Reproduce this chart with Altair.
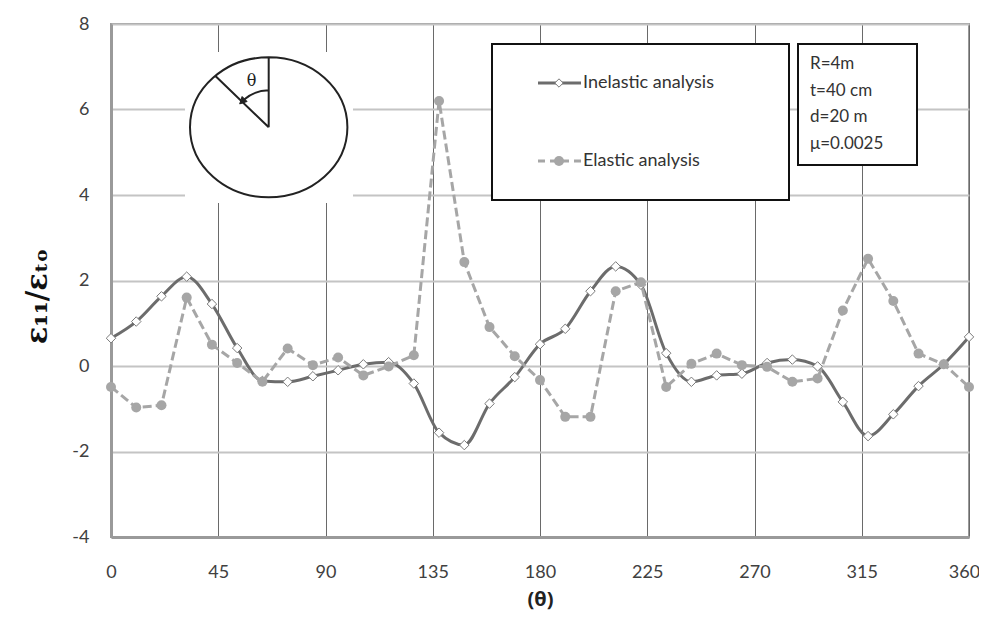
import altair as alt
import pandas as pd

# ---- data ----
theta = [0, 10.59, 21.18, 31.76, 42.35, 52.94, 63.53, 74.12, 84.71, 95.29,
         105.88, 116.47, 127.06, 137.65, 148.24, 158.82, 169.41, 180, 190.59,
         201.18, 211.76, 222.35, 232.94, 243.53, 254.12, 264.71, 275.29,
         285.88, 296.47, 307.06, 317.65, 328.24, 338.82, 349.41, 360]
inelastic = [0.65, 1.04, 1.63, 2.09, 1.45, 0.42, -0.35, -0.37, -0.24, -0.10,
             0.04, 0.09, -0.41, -1.56, -1.85, -0.88, -0.26, 0.51, 0.87, 1.75,
             2.33, 1.90, 0.30, -0.37, -0.22, -0.18, 0.07, 0.15, -0.01, -0.84,
             -1.64, -1.13, -0.47, 0.04, 0.68]
elastic = [-0.49, -0.97, -0.92, 1.60, 0.50, 0.07, -0.37, 0.41, 0.02, 0.20,
           -0.22, -0.01, 0.25, 6.20, 2.43, 0.91, 0.23, -0.33, -1.19, -1.19,
           1.75, 1.96, -0.49, 0.05, 0.29, 0.02, -0.02, -0.37, -0.29, 1.30,
           2.51, 1.52, 0.29, 0.04, -0.49]
x_ticks = [0, 45, 90, 135, 180, 225, 270, 315, 360]
y_ticks = [-4, -2, 0, 2, 4, 6, 8]
legend_labels = ["Inelastic analysis", "Elastic analysis"]
info_lines = ["R=4m", "t=40 cm", "d=20 m", "\u03bc=0.0025"]

W, H = 858, 513
OX, OY = 111, 24  # page position of plot origin


def px(v):
    return alt.value(v - OX)


def py(v):
    return alt.value(v - OY)


df_in = pd.DataFrame({"theta": theta, "v": inelastic})
df_el = pd.DataFrame({"theta": theta, "v": elastic})
one = pd.DataFrame({"a": [0]})

FONT = "Lato"
DARK = "#6c6c6c"
LIGHT = "#a6a6a6"

xenc = alt.X("theta:Q", scale=alt.Scale(domain=[0, 360], nice=False, zero=False),
             axis=alt.Axis(values=x_ticks, title="(\u03b8)", grid=True,
                           gridColor="#6a6a6a", gridWidth=1, ticks=False,
                           domainColor="#9a9a9a", domainWidth=3,
                           labelPadding=26, labelFontSize=18, labelFont=FONT,
                           labelColor="#404040", titleFont="Open Sans",
                           titleFontSize=20, titleFontWeight="bold",
                           titleColor="#222", titlePadding=8,
                           labelFlush=False, labelOverlap=False,
                           labelOffset={"condition": {"test": "datum.value === 360",
                                                      "value": -5},
                                        "value": 0},
                           labelExpr="'' + datum.value"))
yenc = alt.Y("v:Q", scale=alt.Scale(domain=[-4, 8], nice=False, zero=False),
             axis=alt.Axis(values=y_ticks, title="\u03b5\u2081\u2081/\u03b5\u209c\u2092",
                           grid=True, gridColor="#c4c4c4", gridWidth=2,
                           ticks=False, domainColor="#9a9a9a", domainWidth=3,
                           labelPadding=22, labelFontSize=18, labelFont=FONT,
                           labelColor="#404040", titleFont="DejaVu Serif",
                           titleFontSize=29, titleFontWeight="bold",
                           titleColor="#111", titleAngle=-90,
                           titleX=-74, titleY=272, titleAlign="center",
                           titleBaseline="middle", labelFlush=False,
                           labelExpr="'' + datum.value"))

in_line = alt.Chart(df_in).mark_line(color=DARK, strokeWidth=3,
                                     interpolate="monotone").encode(x=xenc, y=yenc)
in_pts = alt.Chart(df_in).mark_point(shape="diamond", filled=True, fill="white",
                                     stroke="#7a7a7a", strokeWidth=1, size=90,
                                     opacity=1).encode(x="theta:Q", y="v:Q")
el_line = alt.Chart(df_el).mark_line(color=LIGHT, strokeWidth=3,
                                     strokeDash=[9, 4]).encode(x="theta:Q", y="v:Q")
el_pts = alt.Chart(df_el).mark_circle(color=LIGHT, size=100,
                                      opacity=1).encode(x="theta:Q", y="v:Q")

# ---- inset drawing ----
inset_bg = alt.Chart(one).mark_rect(fill="white", stroke=None).encode(
    x=px(185), x2=px(353), y=py(52), y2=py(203))
inset_path = ("M-78.7,0 A78.7,70 0 1,1 78.7,0 A78.7,70 0 1,1 -78.7,0 Z "
              "M0,0 L0,-70 M0,0 L-53,-51 M0,-37 A37,37 0 0,0 -24.5,-27.7")
inset = alt.Chart(one).mark_point(shape=inset_path, size=4, filled=False,
                                  stroke="#222", strokeWidth=2, opacity=1).encode(
    x=px(268.7), y=py(127.3))
arrow = alt.Chart(one).mark_point(shape="M-29,-23.4 L-21.6,-25.8 L-26.6,-30.8 Z",
                                  size=4, filled=True, fill="#222", stroke="#222",
                                  strokeWidth=1, opacity=1).encode(
    x=px(268.7), y=py(127.3))
theta_txt = alt.Chart(one).mark_text(text="\u03b8", font="DejaVu Serif",
                                     fontSize=16, color="#222").encode(
    x=px(251.5), y=py(81))

# ---- legend box ----
leg_box = alt.Chart(one).mark_rect(fill="white", stroke="#111", strokeWidth=2).encode(
    x=px(492), x2=px(789), y=py(44), y2=py(200))
leg_l1 = alt.Chart(one).mark_rule(color=DARK, strokeWidth=3).encode(
    x=px(538), x2=px(581), y=py(83))
leg_p1 = alt.Chart(one).mark_point(shape="diamond", filled=True, fill="white",
                                   stroke="#7a7a7a", strokeWidth=1, size=70,
                                   opacity=1).encode(x=px(559), y=py(83))
leg_l2 = alt.Chart(one).mark_rule(color=LIGHT, strokeWidth=3,
                                  strokeDash=[7, 5]).encode(
    x=px(538), x2=px(581), y=py(161))
leg_p2 = alt.Chart(one).mark_circle(color=LIGHT, size=100, opacity=1).encode(
    x=px(559), y=py(161))
leg_t1 = alt.Chart(one).mark_text(text=legend_labels[0], font=FONT, fontSize=18,
                                  align="left", baseline="middle",
                                  color="#333").encode(x=px(583), y=py(83))
leg_t2 = alt.Chart(one).mark_text(text=legend_labels[1], font=FONT, fontSize=18,
                                  align="left", baseline="middle",
                                  color="#333").encode(x=px(583), y=py(161))

# ---- info box ----
info_box = alt.Chart(one).mark_rect(fill="white", stroke="#111", strokeWidth=2).encode(
    x=px(798), x2=px(917), y=py(44), y2=py(165))
info_txt = alt.Chart(one).mark_text(text=info_lines, font=FONT, fontSize=17,
                                    align="left", baseline="alphabetic",
                                    lineHeight=26.7, color="#333").encode(
    x=px(810), y=py(69))

chart = alt.layer(
    in_line, el_line, in_pts, el_pts,
    inset_bg, inset, arrow, theta_txt,
    leg_box, leg_l1, leg_l2, leg_p1, leg_p2, leg_t1, leg_t2,
    info_box, info_txt,
).properties(
    width=W, height=H,
    padding={"left": OX - 8, "top": OY - 8, "right": 10, "bottom": 76},
    autosize=alt.AutoSizeParams(type="none"),
    background="white",
).configure_view(stroke="#9a9a9a", strokeWidth=2)

chart.save("out.html", embed_options={"renderer": "svg", "actions": False})
